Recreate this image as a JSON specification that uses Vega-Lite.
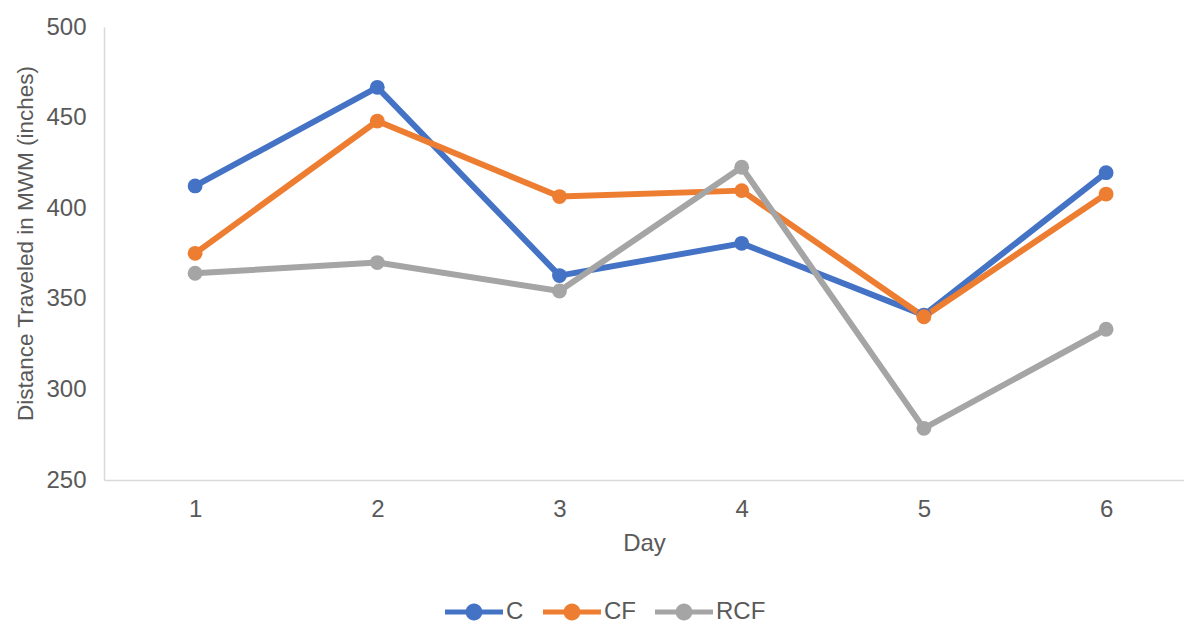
{
  "$schema": "https://vega.github.io/schema/vega-lite/v6.json",
  "width": 1080,
  "height": 453,
  "autosize": {"type": "none"},
  "padding": {"left": 104, "top": 27, "right": 0, "bottom": 143},
  "background": "#ffffff",
  "config": {
    "view": {"stroke": null},
    "font": "Liberation Sans",
    "axis": {
      "labelFont": "Liberation Sans",
      "titleFont": "Liberation Sans",
      "labelFontSize": 24,
      "titleFontSize": 24,
      "labelColor": "#595959",
      "titleColor": "#595959",
      "titleFontWeight": "normal",
      "domainColor": "#d9d9d9",
      "domainWidth": 1.5,
      "ticks": false,
      "grid": false
    },
    "legend": {
      "labelFont": "Liberation Sans",
      "labelFontSize": 24,
      "labelColor": "#595959"
    }
  },
  "data": {
    "values": [
      {"day": 1, "group": "C", "distance": 412.3},
      {"day": 2, "group": "C", "distance": 466.7},
      {"day": 3, "group": "C", "distance": 362.8},
      {"day": 4, "group": "C", "distance": 380.6},
      {"day": 5, "group": "C", "distance": 341.0},
      {"day": 6, "group": "C", "distance": 419.6},
      {"day": 1, "group": "CF", "distance": 375.1},
      {"day": 2, "group": "CF", "distance": 448.1},
      {"day": 3, "group": "CF", "distance": 406.4},
      {"day": 4, "group": "CF", "distance": 409.7},
      {"day": 5, "group": "CF", "distance": 340.1},
      {"day": 6, "group": "CF", "distance": 407.8},
      {"day": 1, "group": "RCF", "distance": 364.1},
      {"day": 2, "group": "RCF", "distance": 370.0},
      {"day": 3, "group": "RCF", "distance": 354.3},
      {"day": 4, "group": "RCF", "distance": 422.6},
      {"day": 5, "group": "RCF", "distance": 278.5},
      {"day": 6, "group": "RCF", "distance": 333.2}
    ]
  },
  "mark": {
    "type": "line",
    "strokeWidth": 6,
    "strokeCap": "round",
    "strokeJoin": "round",
    "point": {"filled": true, "size": 220, "opacity": 1}
  },
  "encoding": {
    "x": {
      "field": "day",
      "type": "quantitative",
      "title": "Day",
      "scale": {"domain": [0.5, 6.4276], "nice": false, "zero": false},
      "axis": {
        "values": [1, 2, 3, 4, 5, 6],
        "format": "d",
        "labelPadding": 17,
        "titleBaseline": "alphabetic",
        "titleY": 70
      }
    },
    "y": {
      "field": "distance",
      "type": "quantitative",
      "title": "Distance Traveled in MWM (inches)",
      "scale": {"domain": [250, 500], "nice": false, "zero": false},
      "axis": {
        "values": [250, 300, 350, 400, 450, 500],
        "labelPadding": 18,
        "titleFontSize": 22.5,
        "titleBaseline": "alphabetic",
        "titleAngle": -90,
        "titleAlign": "center",
        "titleX": -72,
        "titleY": 216
      }
    },
    "color": {
      "field": "group",
      "type": "nominal",
      "title": null,
      "scale": {"domain": ["C", "CF", "RCF"], "range": ["#4472C4", "#ED7D31", "#A5A5A5"]},
      "legend": {
        "orient": "none",
        "direction": "horizontal",
        "legendX": 341,
        "legendY": 556,
        "symbolType": "M-1,-0.09L1,-0.09L1,0.09L-1,0.09Z M0.29,0A0.29,0.29,0,1,1,-0.29,0A0.29,0.29,0,1,1,0.29,0Z",
        "symbolSize": 3364,
        "labelOffset": 3,
        "columnPadding": 19,
        "encode": {
          "symbols": {
            "update": {
              "fill": {"scale": "color", "field": "value"},
              "stroke": {"value": "transparent"},
              "strokeWidth": {"value": 0},
              "opacity": {"value": 1}
            }
          }
        }
      }
    }
  }
}
